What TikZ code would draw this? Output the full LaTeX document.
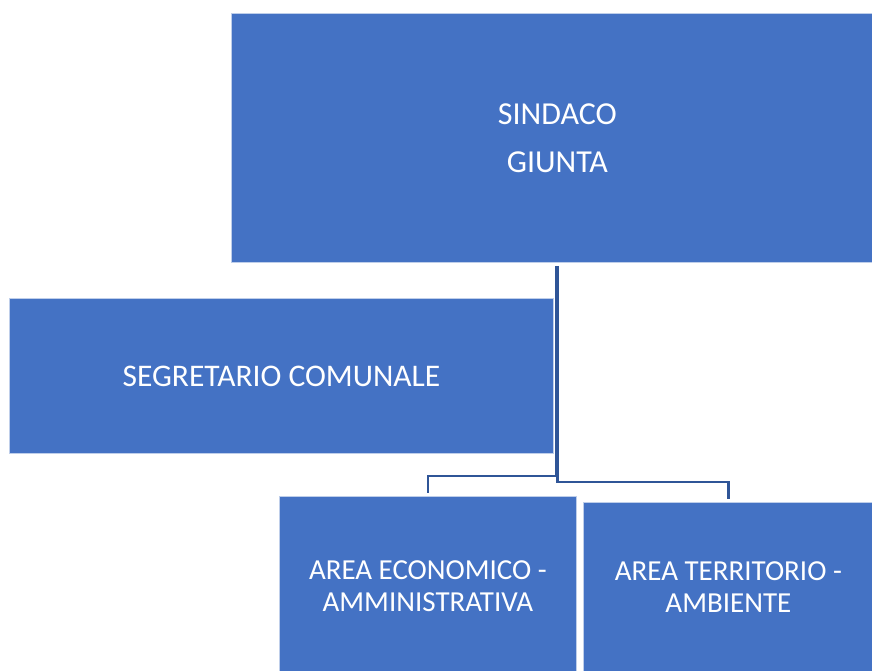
\documentclass[tikz,border=0pt]{standalone}
\usepackage{fontspec}
\setmainfont{Carlito}
\usetikzlibrary{positioning}
\definecolor{boxblue}{HTML}{4472C4}
\definecolor{lineblue}{HTML}{2F5597}
\tikzset{
  orgbox/.style={rectangle, fill=boxblue, draw=white!65!boxblue, line width=0.8pt,
    text=white, align=center, inner sep=0pt, anchor=north west},
  orgline/.style={draw=lineblue, line width=2.2pt}
}
\begin{document}
\begin{tikzpicture}[x=1pt, y=-1pt]
  \useasboundingbox (0,0) rectangle (872,670);

  % boxes
  \node[orgbox, minimum width=652pt, minimum height=249pt,
    font=\fontsize{32}{38}\selectfont] (sindaco) at (231,13) {SINDACO\\[10pt]GIUNTA};
  \node[orgbox, minimum width=544pt, minimum height=155pt,
    font=\fontsize{31.5}{37}\selectfont] (segretario) at (9,298) {SEGRETARIO COMUNALE};
  \node[orgbox, minimum width=297pt, minimum height=179pt,
    font=\fontsize{29}{32}\selectfont] (economico) at (279,496) {AREA ECONOMICO -\\AMMINISTRATIVA};
  \node[orgbox, minimum width=290pt, minimum height=170pt,
    font=\fontsize{29}{32}\selectfont] (territorio) at (583,502) {AREA TERRITORIO -\\AMBIENTE};

  % connectors
  \draw[orgline] ([xshift=-1.5pt, yshift=-3pt]sindaco.south) -- ++(0,210)
    -| ([yshift=3pt]economico.north);
  \draw[orgline] ([yshift=-3pt]sindaco.south) -- ++(0,216)
    -| ([yshift=3pt]territorio.north);
\end{tikzpicture}
\end{document}
